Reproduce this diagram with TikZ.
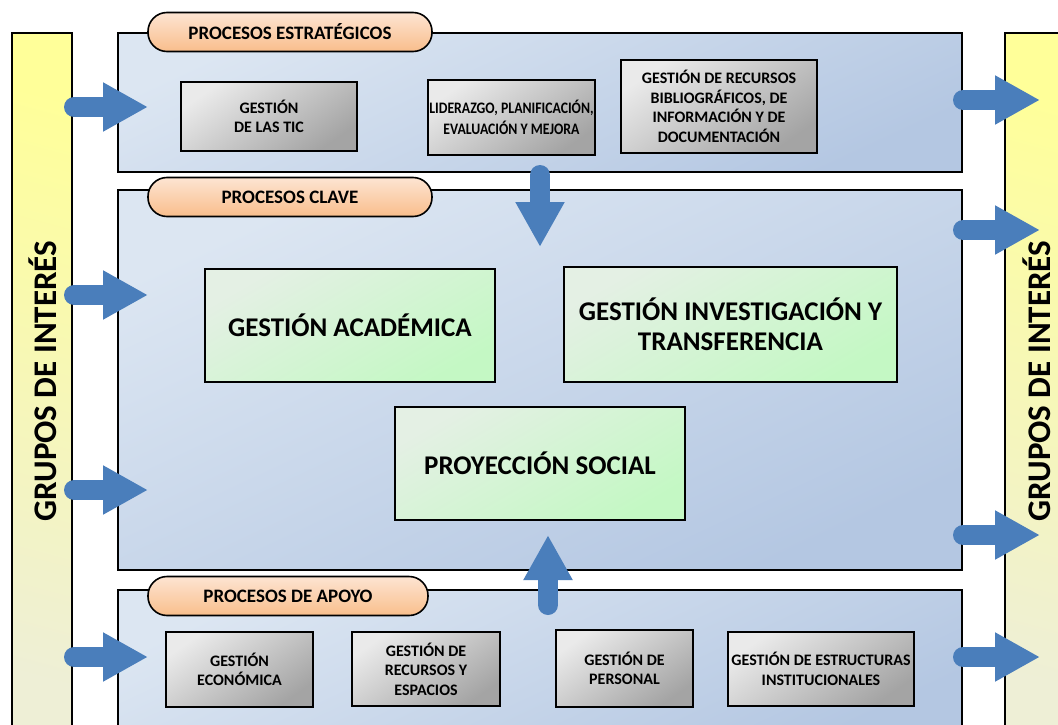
\documentclass[tikz,border=0pt]{standalone}
\usepackage{fontspec}
\setmainfont{Carlito}
\newfontfamily\estrecha[FakeStretch=0.86]{Carlito}
\usetikzlibrary{arrows.meta}
\definecolor{panelTop}{HTML}{DCE6F2}
\definecolor{panelBot}{HTML}{B4C7E2}
\definecolor{pillTop}{HTML}{FDE5D2}
\definecolor{pillBot}{HTML}{F9BE8C}
\definecolor{grisTop}{HTML}{EAEAEA}
\definecolor{grisBot}{HTML}{A4A4A4}
\definecolor{verdeTop}{HTML}{E4F0E4}
\definecolor{verdeBot}{HTML}{C4F8C4}
\definecolor{amarillo}{HTML}{FFFF99}
\definecolor{amarilloPal}{HTML}{EEEFD6}
\definecolor{flechaAzul}{HTML}{4A7EBB}
\tikzset{panel/.style={draw=black, line width=1.6pt, top color=panelTop, bottom color=panelBot, shading angle=25},
 pill/.style={draw=black, line width=1.6pt, rounded corners=19pt, top color=pillTop, bottom color=pillBot,
   minimum height=39pt, font=\fontsize{19}{22}\selectfont\bfseries},
 grisbox/.style={draw=black, line width=1.6pt, top color=grisTop, bottom color=grisBot, shading angle=35,
   align=center, font=\fontsize{16}{19.5}\selectfont\bfseries},
 verdebox/.style={draw=black, line width=1.6pt, top color=verdeTop, bottom color=verdeBot, shading angle=30,
   align=center, font=\fontsize{27}{30}\selectfont\bfseries},
 grupos/.style={draw=black, line width=1.6pt, top color=amarillo, bottom color=amarilloPal, shading angle=-15},
 gruposlabel/.style={rotate=90, inner sep=0pt, font=\fontsize{33}{38}\selectfont\bfseries},
 flecha/.style={draw=flechaAzul, line width=20pt, line cap=round, -{Triangle[length=45pt,width=46pt]}},
 }

\begin{document}
\begin{tikzpicture}[x=1pt,y=-1pt]
        \useasboundingbox (0,0) rectangle (1058,725);
        \clip (0,0) rectangle (1058,725);
        \fill[white] (0,0) rectangle (1058,725);
        \draw[grupos] (12,33) rectangle (72,740);
        \draw[grupos] (1005,33) rectangle (1070,740);
        \node[gruposlabel] (gizq) at (43,381) {GRUPOS DE INTERÉS};
        \node[gruposlabel] (gder) at (1037,381) {GRUPOS DE INTERÉS};
        \draw[panel] (118,33) rectangle (962,172);
        \draw[panel] (118,190) rectangle (962,570);
        \draw[panel] (118,590) rectangle (962,740);
        \node[pill, minimum width=284pt] (pestr) at (290,32) {PROCESOS ESTRATÉGICOS};
        \node[pill, minimum width=284pt] (pclave) at (290,197) {PROCESOS CLAVE};
        \node[pill, minimum width=280pt] (papoyo) at (288,596) {PROCESOS DE APOYO};
        \node[grisbox, minimum width=176pt, minimum height=69pt] (tic) at (269,116.5) {GESTIÓN\\DE LAS TIC};
        \node[grisbox, minimum width=167pt, minimum height=75pt, inner sep=1pt, font=\estrecha\fontsize{16}{20.5}\selectfont\bfseries] (lider) at (511.5,117.5) {LIDERAZGO, PLANIFICACIÓN,\\EVALUACIÓN Y MEJORA};
        \node[grisbox, minimum width=196pt, minimum height=93pt] (biblio) at (719,106.5) {GESTIÓN DE RECURSOS\\BIBLIOGRÁFICOS, DE\\INFORMACIÓN Y DE\\DOCUMENTACIÓN};
        \node[verdebox, minimum width=290pt, minimum height=113pt] (acad) at (350,325.5) {GESTIÓN ACADÉMICA};
        \node[verdebox, minimum width=333pt, minimum height=115pt] (inves) at (730.5,324.5) {GESTIÓN INVESTIGACIÓN Y\\TRANSFERENCIA};
        \node[verdebox, minimum width=290pt, minimum height=113pt] (proy) at (540,463.5) {PROYECCIÓN SOCIAL};
        \node[grisbox, minimum width=147pt, minimum height=75pt] (econ) at (239.5,669.5) {GESTIÓN\\ECONÓMICA};
        \node[grisbox, minimum width=148pt, minimum height=74pt] (espac) at (426,669) {GESTIÓN DE\\RECURSOS Y\\ESPACIOS};
        \node[grisbox, minimum width=137pt, minimum height=77pt] (pers) at (624.5,668.5) {GESTIÓN DE\\PERSONAL};
        \node[grisbox, minimum width=184pt, minimum height=74pt] (estruc) at (821,669) {GESTIÓN DE ESTRUCTURAS\\INSTITUCIONALES};
        \coordinate (in1) at (74,107);  \coordinate (in1e) at (148,107);
        \coordinate (in2) at (74,295);  \coordinate (in2e) at (148,295);
        \coordinate (in3) at (74,490);  \coordinate (in3e) at (148,490);
        \coordinate (in4) at (74,657);  \coordinate (in4e) at (148,657);
        \coordinate (out1) at (963,100); \coordinate (out1e) at (1040,100);
        \coordinate (out2) at (963,230); \coordinate (out2e) at (1040,230);
        \coordinate (out3) at (963,535); \coordinate (out3e) at (1040,535);
        \coordinate (out4) at (963,657); \coordinate (out4e) at (1040,657);
        \coordinate (baja) at (540,175); \coordinate (bajae) at (540,247);
        \coordinate (sube) at (548,605); \coordinate (subee) at (548,535);
        \draw[flecha] (in1) -- (in1e);
        \draw[flecha] (in2) -- (in2e);
        \draw[flecha] (in3) -- (in3e);
        \draw[flecha] (in4) -- (in4e);
        \draw[flecha] (out1) -- (out1e);
        \draw[flecha] (out2) -- (out2e);
        \draw[flecha] (out3) -- (out3e);
        \draw[flecha] (out4) -- (out4e);
        \draw[flecha] (baja) -- (bajae);
        \draw[flecha] (sube) -- (subee);
    \end{tikzpicture}
\end{document}
